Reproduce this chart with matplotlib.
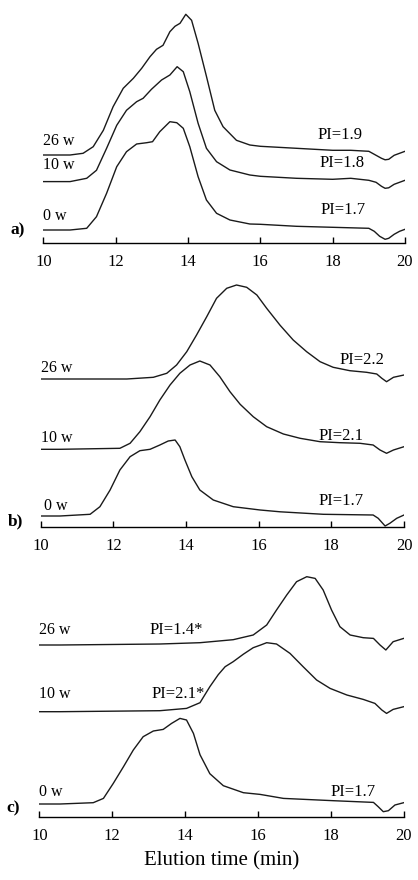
import matplotlib
matplotlib.use("Agg")
import matplotlib.pyplot as plt

plt.rcParams['font.family'] = ['Liberation Serif', 'DejaVu Serif']

# ---- panel a) ----  (elution time, detector signal above axis)
a_0w_t = [10, 10.74, 11.2, 11.47, 11.75, 12.03, 12.30, 12.58, 12.86, 13.02, 13.22, 13.50, 13.69, 13.87, 14.05, 14.28, 14.51, 14.79, 15.16, 15.71, 16, 17, 18, 19, 19.15, 19.3, 19.45, 19.55, 19.7, 19.85, 20]
a_0w_y = [13.3, 13.3, 15, 26.6, 50, 76.6, 91.6, 99.3, 100.6, 101.6, 111.6, 121.6, 120.6, 115, 96.6, 66.6, 43.3, 30, 23.3, 19.3, 19, 17, 16, 15, 12, 7, 4, 5, 9, 12, 14]
a_10w_t = [10, 10.74, 11.2, 11.47, 11.75, 12.03, 12.30, 12.58, 12.76, 12.99, 13.27, 13.50, 13.70, 13.87, 14.05, 14.28, 14.51, 14.79, 15.16, 15.71, 16, 17, 18, 18.5, 19, 19.2, 19.35, 19.45, 19.55, 19.7, 20]
a_10w_y = [61.7, 61.7, 65, 73, 95, 118, 133, 141.6, 145, 154, 163.3, 168.3, 176.6, 171.6, 151.6, 120, 95, 81.6, 73.3, 68.3, 67, 65, 64, 65, 63, 61, 57, 55, 55.5, 59, 63]
a_26w_t = [10, 10.74, 11.10, 11.38, 11.66, 11.93, 12.21, 12.49, 12.72, 12.95, 13.13, 13.31, 13.50, 13.64, 13.78, 13.94, 14.10, 14.28, 14.51, 14.74, 14.97, 15.34, 15.71, 16, 17, 18, 18.5, 19, 19.2, 19.35, 19.45, 19.55, 19.7, 20]
a_26w_y = [88.3, 88.3, 90, 96.6, 113, 136.6, 155, 165, 175, 186.6, 194, 198, 211.6, 217, 220, 229, 223, 200, 167, 133, 116.6, 103, 98.3, 97, 95, 93, 93, 92, 88, 85, 83.5, 84, 88, 92]

# ---- panel b) ----
b_0w_t = [10, 10.53, 11.36, 11.63, 11.91, 12.18, 12.46, 12.73, 13.01, 13.28, 13.51, 13.70, 13.83, 13.97, 14.16, 14.38, 14.75, 15.30, 16.04, 16.59, 17.78, 19.15, 19.29, 19.48, 19.61, 19.80, 20]
b_0w_y = [11.3, 11.3, 13, 20.6, 37.3, 57.3, 70.6, 76.6, 78, 82.3, 86.3, 87.3, 80.6, 67.3, 50.6, 37.3, 27.3, 20.6, 17.3, 15.5, 13, 12.3, 9, 1.3, 4, 9, 12.3]
b_10w_t = [10, 10.53, 12.18, 12.46, 12.73, 13.01, 13.28, 13.56, 13.83, 14.11, 14.38, 14.66, 14.93, 15.21, 15.49, 15.85, 16.22, 16.68, 17.14, 17.69, 18.24, 18.79, 19.15, 19.34, 19.52, 19.71, 20]
b_10w_y = [78, 78, 79, 84, 95.6, 110.6, 127.3, 142.3, 154, 162.3, 166.3, 162.3, 150.6, 135.6, 123, 110.6, 100.6, 93.3, 89, 85.6, 84.6, 84, 82.3, 77.3, 74, 77.3, 80.6]
b_26w_t = [10, 10.53, 12.37, 13.10, 13.47, 13.74, 14.02, 14.29, 14.57, 14.84, 15.12, 15.39, 15.67, 15.95, 16.22, 16.59, 16.95, 17.32, 17.69, 18.05, 18.51, 18.97, 19.25, 19.39, 19.52, 19.71, 20]
b_26w_y = [148.3, 148.3, 148.3, 150, 154, 162.3, 175.6, 192.3, 210.6, 229, 239, 242.3, 240, 232.3, 219, 202, 187.3, 175.6, 165.6, 160, 156.6, 155, 153.3, 149, 145.6, 150, 152.3]

# ---- panel c) ----
c_0w_t = [10, 10.57, 11.48, 11.76, 12.03, 12.31, 12.58, 12.85, 13.13, 13.40, 13.63, 13.86, 14.04, 14.23, 14.41, 14.68, 15.05, 15.60, 16.06, 16.70, 18.07, 19.17, 19.30, 19.44, 19.58, 19.76, 20]
c_0w_y = [12.7, 12.7, 14, 18.3, 33.3, 50, 66.7, 80, 85.7, 87.3, 93.3, 98.3, 96.7, 83.3, 62, 43, 31, 24, 22.3, 18.3, 16, 14.3, 10, 5, 6, 11.7, 14]
c_10w_t = [10, 10.57, 13.31, 14.04, 14.41, 14.68, 14.91, 15.10, 15.32, 15.60, 15.87, 16.06, 16.24, 16.51, 16.88, 17.24, 17.61, 17.98, 18.44, 18.89, 19.21, 19.40, 19.53, 19.71, 20]
c_10w_y = [105, 105, 106, 108.3, 114, 130, 142, 150, 155, 162.5, 169, 171.5, 174, 172.7, 163.3, 150, 136.7, 128.3, 121.7, 117.3, 113.3, 106.7, 103.3, 107.3, 110]
c_26w_t = [10, 10.57, 13.31, 14.41, 15.32, 15.87, 16.24, 16.51, 16.79, 17.06, 17.34, 17.57, 17.79, 18.02, 18.25, 18.53, 18.89, 19.17, 19.35, 19.51, 19.71, 20]
c_26w_y = [171.7, 171.7, 172.7, 174, 177, 181.7, 191.7, 206.7, 221.7, 235, 240, 238.3, 226.7, 206.7, 190, 181.7, 179, 178.3, 171.7, 166.7, 175, 178.3]

x_ticks = [10, 12, 14, 16, 18, 20]

panels = [
    dict(box=[43.3, 5, 405, 243.3], tag="a)", tag_y=13,
         traces=[(a_26w_t, a_26w_y), (a_10w_t, a_10w_y), (a_0w_t, a_0w_y)],
         labels=[("26 w", 10.0, 102), ("10 w", 10.0, 78), ("0 w", 10.0, 27)],
         pis=[("PI=1.9", 18.2, 108), ("PI=1.8", 18.25, 80), ("PI=1.7", 18.3, 33)]),
    dict(box=[40.7, 283, 404, 527.3], tag="b)", tag_y=6,
         traces=[(b_26w_t, b_26w_y), (b_10w_t, b_10w_y), (b_0w_t, b_0w_y)],
         labels=[("26 w", 10.0, 159), ("10 w", 10.0, 89), ("0 w", 10.1, 21)],
         pis=[("PI=2.2", 18.83, 167), ("PI=2.1", 18.28, 91), ("PI=1.7", 18.28, 26)]),
    dict(box=[39.3, 575, 403.7, 816.7], tag="c)", tag_y=8.6,
         traces=[(c_26w_t, c_26w_y), (c_10w_t, c_10w_y), (c_0w_t, c_0w_y)],
         labels=[("26 w", 10.0, 187), ("10 w", 10.0, 123), ("0 w", 10.0, 25)],
         pis=[("PI=1.4*", 13.77, 187), ("PI=2.1*", 13.82, 123), ("PI=1.7", 18.62, 25)]),
]

W, H = 418, 880
fig = plt.figure(figsize=(W / 100, H / 100), dpi=100)

for p in panels:
    x0, y0, x1, y1 = p["box"]
    ax = fig.add_axes([x0 / W, 1 - y1 / H, (x1 - x0) / W, (y1 - y0) / H])
    for t, y in p["traces"]:
        ax.plot(t, y, color="#1a1a1a", lw=1.0, solid_joinstyle="round")
    ax.set_xlim(10, 20)
    ax.set_ylim(0, y1 - y0)
    for s in ["top", "left", "right"]:
        ax.spines[s].set_visible(False)
    ax.spines["bottom"].set_linewidth(1.0)
    ax.set_yticks([])
    ax.set_xticks(x_ticks)
    ax.tick_params(axis="x", direction="in", length=4, width=1.0,
                   labelsize=12, pad=8)
    for txt, x, y in p["labels"]:
        ax.text(x, y, txt, fontsize=11.5, ha="left", va="center")
    for txt, x, y in p["pis"]:
        ax.text(x, y, txt, fontsize=12, ha="center", va="center")
    ax.text(-0.09, p["tag_y"] / (y1 - y0), p["tag"], transform=ax.transAxes,
            fontsize=12.5, fontweight="bold", ha="left", va="center")
    last = ax

last.set_xlabel("Elution time (min)", fontsize=15, labelpad=5)

fig.savefig("out.png", dpi=100)
